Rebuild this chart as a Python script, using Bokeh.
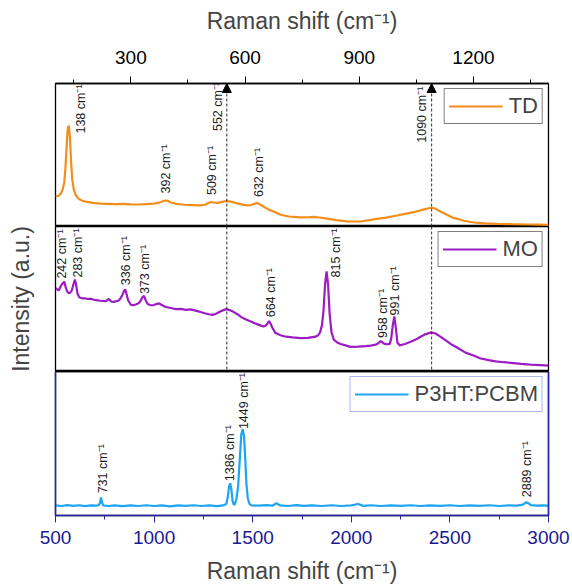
from math import pi
from bokeh.plotting import figure
from bokeh.models import (Range1d, LinearAxis, Span, Arrow, NormalHead, Legend, LegendItem,
                          ColumnDataSource, FixedTicker)
from bokeh.layouts import column
from bokeh.embed import file_html
from bokeh.resources import INLINE
from bokeh.core.properties import value

# ---------------- data ----------------
# TD spectrum, plotted against the top axis (cm-1), normalized panel intensity
td_pts = [(102, 0.21), (110, 0.215), (116, 0.23), (121, 0.26), (125, 0.31), (128, 0.40), (131, 0.55),
          (134, 0.68), (137, 0.706), (140, 0.62), (143, 0.45), (146, 0.33), (150, 0.26), (155, 0.22),
          (162, 0.195), (172, 0.18), (185, 0.172), (200, 0.165), (220, 0.16), (240, 0.158), (260, 0.156),
          (280, 0.158), (300, 0.155), (320, 0.154), (340, 0.157), (360, 0.16), (372, 0.165), (382, 0.175),
          (388, 0.18), (393, 0.182), (398, 0.178), (405, 0.168), (420, 0.158), (440, 0.152), (460, 0.15),
          (480, 0.148), (495, 0.152), (502, 0.162), (510, 0.171), (518, 0.168), (528, 0.165), (540, 0.172),
          (551, 0.178), (562, 0.174), (575, 0.165), (590, 0.155), (605, 0.148), (615, 0.15), (624, 0.158),
          (630, 0.164), (637, 0.158), (648, 0.14), (662, 0.118), (675, 0.105), (693, 0.082), (715, 0.07),
          (746, 0.064), (770, 0.066), (781, 0.067), (795, 0.063), (815, 0.055), (840, 0.045), (868, 0.036),
          (903, 0.035), (938, 0.05), (970, 0.062), (999, 0.077), (1020, 0.088), (1043, 0.1), (1070, 0.12),
          (1089, 0.131), (1100, 0.125), (1113, 0.105), (1130, 0.082), (1148, 0.06), (1175, 0.04),
          (1201, 0.028), (1230, 0.022), (1262, 0.018), (1300, 0.016), (1340, 0.014), (1370, 0.013),
          (1397, 0.012)]

# MO spectrum, plotted against the top axis
mo_pts = [(102, 0.576), (107, 0.565), (111, 0.56), (116, 0.59), (120, 0.605), (125, 0.62), (129, 0.58),
          (133, 0.55), (137, 0.54), (141, 0.545), (145, 0.56), (149, 0.6), (153, 0.634), (156, 0.6),
          (160, 0.535), (165, 0.51), (172, 0.505), (179, 0.505), (187, 0.5), (195, 0.502), (203, 0.495),
          (210, 0.492), (220, 0.488), (234, 0.485), (242, 0.5), (248, 0.483), (255, 0.48), (262, 0.485),
          (268, 0.49), (273, 0.505), (278, 0.53), (282, 0.555), (285, 0.567), (289, 0.53), (293, 0.49),
          (300, 0.46), (306, 0.458), (313, 0.462), (320, 0.47), (326, 0.49), (331, 0.515), (335, 0.52),
          (339, 0.49), (344, 0.465), (352, 0.457), (360, 0.458), (367, 0.465), (374, 0.47), (380, 0.46),
          (392, 0.445), (405, 0.438), (418, 0.43), (431, 0.432), (444, 0.425), (457, 0.428), (470, 0.42),
          (483, 0.41), (496, 0.4), (505, 0.395), (515, 0.39), (525, 0.4), (536, 0.415), (545, 0.425),
          (551, 0.43), (558, 0.425), (567, 0.415), (580, 0.395), (590, 0.375), (601, 0.36), (615, 0.345),
          (628, 0.33), (640, 0.318), (648, 0.31), (655, 0.318), (660, 0.335), (663, 0.347), (667, 0.33),
          (672, 0.3), (680, 0.265), (693, 0.25), (707, 0.24), (725, 0.235), (746, 0.23), (765, 0.232),
          (785, 0.24), (792, 0.25), (797, 0.27), (802, 0.32), (806, 0.42), (810, 0.6), (814, 0.69),
          (818, 0.6), (822, 0.4), (827, 0.27), (833, 0.22), (842, 0.2), (851, 0.19), (864, 0.18),
          (877, 0.17), (897, 0.172), (917, 0.175), (930, 0.178), (943, 0.185), (950, 0.195), (956, 0.21),
          (961, 0.2), (967, 0.19), (974, 0.188), (980, 0.19), (984, 0.23), (988, 0.32), (992, 0.38),
          (996, 0.3), (1000, 0.2), (1006, 0.18), (1020, 0.19), (1035, 0.205), (1048, 0.22), (1061, 0.24),
          (1075, 0.258), (1089, 0.27), (1100, 0.262), (1113, 0.24), (1127, 0.215), (1140, 0.19),
          (1160, 0.16), (1179, 0.13), (1200, 0.11), (1219, 0.09), (1240, 0.078), (1258, 0.07),
          (1280, 0.064), (1298, 0.06), (1325, 0.053), (1350, 0.048), (1375, 0.044), (1398, 0.04)]

# P3HT:PCBM spectrum, plotted against the bottom axis
pc_pts = [(500, 0.07), (530, 0.066), (560, 0.072), (590, 0.067), (620, 0.071), (650, 0.065), (680, 0.07),
          (705, 0.068), (720, 0.072), (726, 0.09), (731, 0.126), (736, 0.09), (742, 0.07), (770, 0.066),
          (800, 0.07), (840, 0.065), (880, 0.07), (920, 0.066), (960, 0.071), (1000, 0.066), (1040, 0.07),
          (1080, 0.064), (1120, 0.07), (1160, 0.067), (1200, 0.071), (1240, 0.066), (1280, 0.07),
          (1320, 0.065), (1350, 0.07), (1366, 0.08), (1374, 0.13), (1380, 0.2), (1386, 0.224),
          (1392, 0.18), (1398, 0.1), (1404, 0.075), (1410, 0.08), (1418, 0.12), (1426, 0.2), (1434, 0.38),
          (1442, 0.56), (1449, 0.6), (1456, 0.55), (1462, 0.4), (1468, 0.22), (1475, 0.12), (1484, 0.08),
          (1495, 0.07), (1530, 0.068), (1570, 0.072), (1600, 0.068), (1620, 0.085), (1640, 0.07),
          (1680, 0.066), (1720, 0.072), (1760, 0.067), (1800, 0.07), (1850, 0.066), (1900, 0.071),
          (1950, 0.066), (2000, 0.07), (2035, 0.08), (2060, 0.067), (2100, 0.071), (2150, 0.066),
          (2200, 0.07), (2250, 0.067), (2300, 0.071), (2350, 0.066), (2400, 0.07), (2450, 0.067),
          (2500, 0.071), (2550, 0.066), (2600, 0.07), (2650, 0.067), (2700, 0.071), (2750, 0.066),
          (2800, 0.07), (2840, 0.068), (2870, 0.075), (2880, 0.085), (2889, 0.092), (2898, 0.085),
          (2910, 0.072), (2940, 0.068), (2970, 0.07), (3000, 0.068)]

# peak annotations
td_peak_x = [137, 393, 510, 551, 630, 1089]
td_peak_y = [0.706, 0.182, 0.171, 0.178, 0.164, 0.131]
td_labels = ["138 cm⁻¹", "392 cm⁻¹", "509 cm⁻¹", "552 cm⁻¹", "632 cm⁻¹", "1090 cm⁻¹"]

mo_peak_x = [125, 153, 285, 335, 663, 814, 956, 992]
mo_peak_y = [0.62, 0.634, 0.567, 0.52, 0.347, 0.69, 0.21, 0.38]
mo_labels = ["242 cm⁻¹", "283 cm⁻¹", "336 cm⁻¹", "373 cm⁻¹", "664 cm⁻¹", "815 cm⁻¹", "958 cm⁻¹", "991 cm⁻¹"]

pc_peak_x = [731, 1386, 1449, 2889]
pc_peak_y = [0.126, 0.224, 0.6, 0.092]
pc_labels = ["731 cm⁻¹", "1386 cm⁻¹", "1449 cm⁻¹", "2889 cm⁻¹"]

marker_lines = [552, 1090]

top_ticks = [300, 600, 900, 1200]
top_minor = [150, 450, 750, 1050, 1350]
bottom_ticks = [500, 1000, 1500, 2000, 2500, 3000]
bottom_minor = [750, 1250, 1750, 2250, 2750]

series_names = ["TD", "MO", "P3HT:PCBM"]

# ---------------- styles ----------------
FONT = "Liberation Sans"
C_TD, C_MO, C_PC = "#F28E1C", "#9C1CC4", "#1EA4F0"
BLUE_AX, BLUE_LBL = "#2626A8", "#1A1A90"
W, LB, RB = 570, 55, 22
X_TITLE = "Raman shift (cm⁻¹)"

td_off = dict(dx=[12, 0, 1, -8, 2, -9], dy=[8, -7, -7, -70, -6, -65])
mo_off = dict(dx=[-2, 3, 1, 1, 2, 9, 2, 1], dy=[-3, -2, -4, -2, -4, 6, -3, -1])
pc_off = dict(dx=[2, 0, 1, 0], dy=[-4, -2, 0, -5])


def make_fig(height, x_range, **kw):
    p = figure(width=W, height=height, x_range=x_range, y_range=Range1d(0, 1),
               output_backend="svg", toolbar_location=None,
               min_border_left=LB, min_border_right=RB, **kw)
    p.xgrid.visible = False
    p.ygrid.visible = False
    p.outline_line_color = "black"
    p.outline_line_width = 1.3
    return p


def add_labels(p, xs, ys, texts, off):
    src = ColumnDataSource(dict(x=xs, y=ys, text=texts, dx=off["dx"], dy=off["dy"]))
    p.text(x="x", y="y", text="text", x_offset="dx", y_offset="dy", angle=pi / 2,
           text_align="left", text_baseline="middle", text_font=value(FONT),
           text_font_size="12.5px", text_color="#1a1a1a", source=src)


def add_legend(p, r, label, border):
    leg = Legend(items=[LegendItem(label=label, renderers=[r])], location="top_right",
                 margin=5, padding=4, spacing=0, glyph_width=54, glyph_height=24,
                 label_height=24, label_standoff=6, label_text_font=FONT,
                 label_text_font_size="22px", border_line_color=border,
                 border_line_width=1.3, background_fill_alpha=1.0)
    p.add_layout(leg)


top_range = Range1d(102, 1397)

# ---- TD panel (with top axis)
p1 = make_fig(226, top_range, x_axis_location="above", y_axis_location=None,
              min_border_top=83, min_border_bottom=0)
ax = p1.xaxis[0]
ax.ticker = FixedTicker(ticks=top_ticks, minor_ticks=top_minor)
ax.major_tick_out, ax.major_tick_in = 7, 0
ax.minor_tick_out, ax.minor_tick_in = 4, 0
ax.major_label_standoff = 13
ax.major_label_text_font = FONT
ax.major_label_text_font_size = "19px"
ax.major_label_text_color = "black"
ax.axis_label = X_TITLE
ax.axis_label_text_font = FONT
ax.axis_label_text_font_size = "23px"
ax.axis_label_text_font_style = "normal"
ax.axis_label_standoff = 14
ax.axis_line_width = 1.3
r1 = p1.line([a for a, b in td_pts], [b for a, b in td_pts], line_color=C_TD, line_width=2.2)
add_labels(p1, td_peak_x, td_peak_y, td_labels, td_off)
add_legend(p1, r1, series_names[0], "black")

# ---- MO panel
p2 = make_fig(145, top_range, x_axis_location=None, y_axis_location="left",
              min_border_top=0, min_border_bottom=0)
ay = p2.yaxis[0]
ay.ticker = FixedTicker(ticks=[])
ay.major_tick_line_color = None
ay.minor_tick_line_color = None
ay.major_label_text_font_size = "0px"
ay.axis_label = "Intensity (a.u.)"
ay.axis_label_text_font = FONT
ay.axis_label_text_font_size = "23px"
ay.axis_label_text_font_style = "normal"
ay.axis_label_standoff = 22
ay.axis_line_color = "black"
r2 = p2.line([a for a, b in mo_pts], [b for a, b in mo_pts], line_color=C_MO, line_width=2.2)
add_labels(p2, mo_peak_x, mo_peak_y, mo_labels, mo_off)
add_legend(p2, r2, series_names[1], "black")

for p in (p1, p2):
    for xm in marker_lines:
        p.add_layout(Span(location=xm, dimension="height", line_color="#333333",
                          line_width=1, line_dash="3 2"))
for xm in marker_lines:
    p1.add_layout(Arrow(end=NormalHead(size=9, fill_color="black", line_color="black"),
                        x_start=xm, y_start=0.9, x_end=xm, y_end=1.0, line_alpha=0))

# ---- P3HT:PCBM panel (bottom axis)
p3 = make_fig(217, Range1d(500, 3000), x_axis_location="below", y_axis_location="left",
              min_border_top=0, min_border_bottom=73)
bx = p3.xaxis[0]
bx.ticker = FixedTicker(ticks=bottom_ticks, minor_ticks=bottom_minor)
bx.major_tick_out, bx.major_tick_in = 7, 0
bx.minor_tick_out, bx.minor_tick_in = 4, 0
bx.major_tick_line_color = BLUE_AX
bx.minor_tick_line_color = BLUE_AX
bx.major_label_standoff = 8
bx.major_label_text_font = FONT
bx.major_label_text_font_size = "19px"
bx.major_label_text_color = BLUE_LBL
bx.axis_label = X_TITLE
bx.axis_label_text_font = FONT
bx.axis_label_text_font_size = "23px"
bx.axis_label_text_font_style = "normal"
bx.axis_label_standoff = 11
bx.axis_line_color = BLUE_AX
bx.axis_line_width = 1.5
by = p3.yaxis[0]
by.ticker = FixedTicker(ticks=[])
by.major_tick_line_color = None
by.minor_tick_line_color = None
by.major_label_text_font_size = "0px"
by.axis_line_color = BLUE_AX
by.axis_line_width = 1.5
right_ax = LinearAxis(ticker=FixedTicker(ticks=[]), major_tick_line_color=None,
                      minor_tick_line_color=None, major_label_text_font_size="0px",
                      axis_line_color=BLUE_AX, axis_line_width=1.5)
p3.add_layout(right_ax, "right")
p3.add_layout(Span(location=1, dimension="width", line_color="black", line_width=1.5))
r3 = p3.line([a for a, b in pc_pts], [b for a, b in pc_pts], line_color=C_PC, line_width=2.2)
add_labels(p3, pc_peak_x, pc_peak_y, pc_labels, pc_off)
add_legend(p3, r3, series_names[2], "#5B6BD8")

layout = column(p1, p2, p3, spacing=0)
open("out.html", "w").write(file_html(layout, INLINE))
